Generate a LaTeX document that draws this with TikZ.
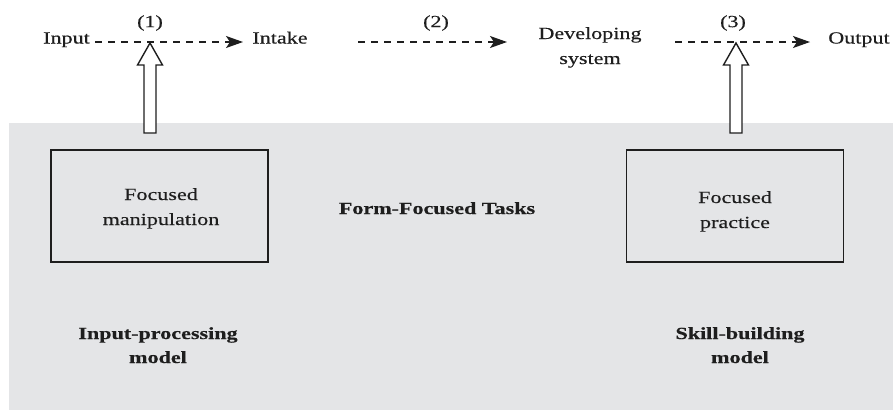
\documentclass[tikz,border=0pt]{standalone}
\usepackage{fontspec}
\setmainfont{Liberation Serif}[FakeStretch=1.3,FakeBold=0.35]
\usetikzlibrary{arrows.meta}
\definecolor{panel}{HTML}{E4E5E7}
\definecolor{ink}{HTML}{1E1E1E}
\begin{document}
\begin{tikzpicture}[x=1pt,y=-1pt,
  every node/.style={text=ink,font=\fontsize{17}{25}\selectfont,inner sep=0pt},
  lbl/.style={anchor=base},
  two/.style={align=center},
  flow/.style={draw=ink,line width=1.3pt,dash pattern=on 7pt off 6pt,-{Stealth[length=17pt,width=12pt,inset=4pt]}},
  box/.style={draw=ink,line width=1.8pt,minimum width=217pt,minimum height=112pt},
  hollow/.style={draw=ink,line width=1.4pt,fill=white,line join=miter},
  bold/.style={font=\fontsize{17}{24}\selectfont\bfseries}]
\useasboundingbox (0,0) rectangle (893,410);
\fill[panel] (9,123) rectangle (893,410);
% top row
\node[lbl] (input) at (66.5,43.5) {Input};
\node[lbl] (intake) at (280,43.5) {Intake};
\node[two,anchor=base] (dev) at (590,64) {Developing\\system};
\node[lbl] (output) at (859,43.5) {Output};
\node (n1) at (150,23) {(1)};
\node (n2) at (436,23) {(2)};
\node (n3) at (733,23) {(3)};
\coordinate (a1s) at (95,42);
\coordinate (a1e) at (243,42);
\coordinate (a2s) at (358,42);
\coordinate (a2e) at (507,42);
\coordinate (a3s) at (675,42);
\coordinate (a3e) at (810,42);
\draw[flow] (a1s) -- (a1e);
\draw[flow] (a2s) -- (a2e);
\draw[flow] (a3s) -- (a3e);
% hollow arrows
\coordinate (t1) at (150,43);
\coordinate (t3) at (736,43);
\draw[hollow] (t1) -- ++(12.5,22) -- ++(-6.5,0) -- ++(0,68) -- ++(-12,0) -- ++(0,-68) -- ++(-6.5,0) -- cycle;
\draw[hollow] (t3) -- ++(12.5,22) -- ++(-6.5,0) -- ++(0,68) -- ++(-12,0) -- ++(0,-68) -- ++(-6.5,0) -- cycle;
% boxes
\node[box] (bl) at (159.5,206) {};
\node[box] (br) at (735,206) {};
\node[two,anchor=base] (tl) at (161,225) {Focused\\manipulation};
\node[two,anchor=base] (tr) at (735,228) {Focused\\practice};
\node[bold,anchor=base] (fft) at (437,214) {Form-Focused Tasks};
\node[bold,two,anchor=base] (ipm) at (158,363) {Input-processing\\model};
\node[bold,two,anchor=base] (sbm) at (740,363) {Skill-building\\model};
\end{tikzpicture}
\end{document}
